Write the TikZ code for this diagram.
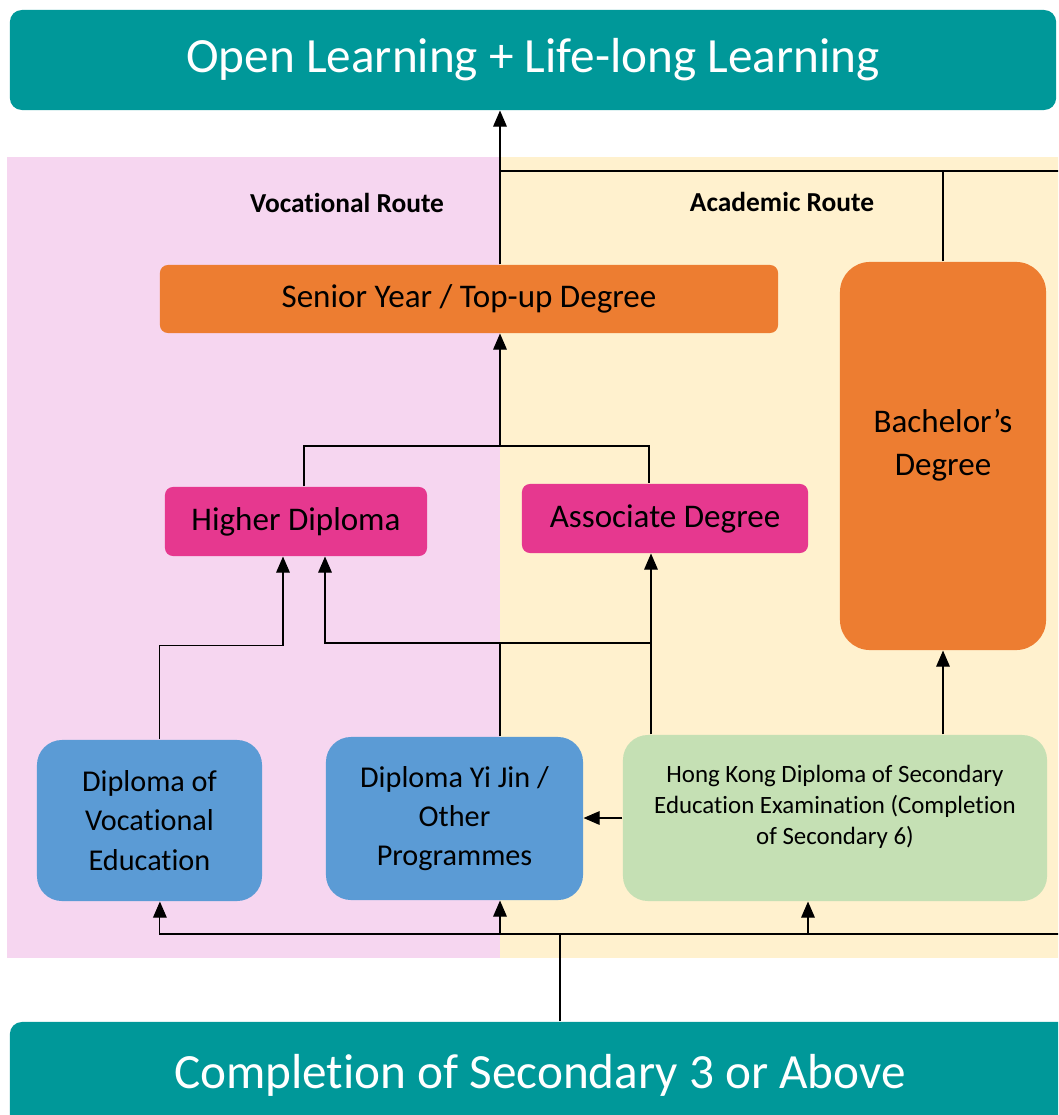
\documentclass[tikz,border=0pt]{standalone}
\usepackage{fontspec}
\setmainfont{Carlito}[Ligatures=NoCommon]
\usetikzlibrary{arrows.meta}
\definecolor{tealbox}{RGB}{0,152,153}
\definecolor{pinkbg}{RGB}{246,214,240}
\definecolor{yellowbg}{RGB}{255,241,206}
\definecolor{orangebox}{RGB}{237,125,49}
\definecolor{magentabox}{RGB}{230,56,143}
\definecolor{bluebox}{RGB}{91,155,213}
\definecolor{greenbox}{RGB}{197,224,180}
\tikzset{
	banner/.style = {fill=tealbox, text=white, rounded corners=0.3cm, inner sep=0pt,
		font=\fontsize{35}{42}\selectfont},
	route/.style = {font=\fontsize{19.5}{23}\selectfont\bfseries},
	degree/.style = {fill=orangebox, inner sep=0pt, align=center,
		font=\fontsize{23.5}{30.5}\selectfont},
	subdeg/.style = {fill=magentabox, rounded corners=0.2cm, inner sep=0pt,
		minimum height=1.725cm, font=\fontsize{23.5}{28}\selectfont},
	prog/.style = {rounded corners=0.625cm, inner sep=0pt, align=center,
		font=\fontsize{21.5}{28}\selectfont},
	arr/.style = {-{Triangle[length=0.4cm, width=0.34cm]}},
}
\begin{document}
\begin{tikzpicture}[x=0.025cm, y=-0.025cm, line width=0.75pt]
	\clip (0,0) rectangle (1058,1115);
	\fill[pinkbg] (7,157) rectangle (500,958);
	\fill[yellowbg] (500,157) rectangle (1070,958);

	\node[banner, minimum width=26.15cm, minimum height=2.5cm] (top) at (533,60) {Open Learning + Life-long Learning};
	\node[banner, minimum width=26.5cm, minimum height=2.65cm] (base) at (540,1075) {Completion of Secondary 3 or Above};

	\node[route] (vroute) at (347,203) {Vocational Route};
	\node[route] (aroute) at (782,202) {Academic Route};

	\node[degree, rounded corners=0.2cm, minimum width=15.45cm, minimum height=1.7cm] (senior) at (469,299) {Senior Year / Top-up Degree};
	\node[degree, rounded corners=0.75cm, minimum width=5.15cm, minimum height=9.7cm,
		label={[align=center, yshift=0.28cm, font=\fontsize{23.5}{30.5}\selectfont]center:Bachelor’s\\Degree}] (bach) at (943,456) {};

	\node[subdeg, minimum width=6.55cm] (hdip) at (296,521.5) {Higher Diploma};
	\node[subdeg, minimum width=7.15cm] (adeg) at (665,518.5) {Associate Degree};

	\node[prog, fill=bluebox, minimum width=5.625cm, minimum height=4.025cm] (dve) at (149.5,820.5) {Diploma of\\Vocational\\Education};
	\node[prog, fill=bluebox, minimum width=6.425cm, minimum height=4.075cm] (dyj) at (454.5,818.5) {Diploma Yi Jin /\\Other\\Programmes};
	\node[prog, fill=greenbox, minimum width=10.6cm, minimum height=4.15cm,
		label={[align=center, yshift=0.28cm, font=\fontsize{17.7}{22.3}\selectfont]center:Hong Kong Diploma of Secondary\\Education Examination (Completion\\of Secondary 6)}] (dse) at (835,818) {};

	\coordinate (spine) at (500,446);
	\coordinate (acad) at (500,171);
	\coordinate (acadR) at (1070,171);
	\coordinate (ajx) at (651,643);
	\coordinate (bj) at (560,934);
	\coordinate (bjR) at (1070,934);

	% upper routes
	\draw[arr] (senior.north -| spine) -- (top.south -| spine);
	\draw (bach.north) |- (acad) -- (acadR);
	\draw[arr] (spine) -- (senior.south -| spine);
	\draw ([xshift=0.2cm]hdip.north) |- (spine) -| ([xshift=-0.4cm]adeg.north);

	% into the diplomas
	\draw[arr] ([xshift=0.24cm]dve.north) -- ++(0,-94) -| ([xshift=-0.325cm]hdip.south);
	\draw[arr] (ajx) -| ([xshift=0.725cm]hdip.south);
	\draw[arr] (dse.north -| ajx) -- (adeg.south -| ajx);
	\draw (dyj.north -| spine) -- (ajx -| spine);
	\draw[arr] (dse.west) -- (dyj.east |- dse.west);
	\draw[arr] (dse.north -| bach) -- (bach.south);

	% from secondary 3
	\draw (base.north -| bj) -- (bj) -- (bjR);
	\draw[arr] (bj) -| ([xshift=0.26cm]dve.south);
	\draw[arr] (bj -| spine) -- (dyj.south -| spine);
	\draw[arr] ([xshift=-0.675cm]dse.south |- bj) -- ([xshift=-0.675cm]dse.south);
\end{tikzpicture}
\end{document}
